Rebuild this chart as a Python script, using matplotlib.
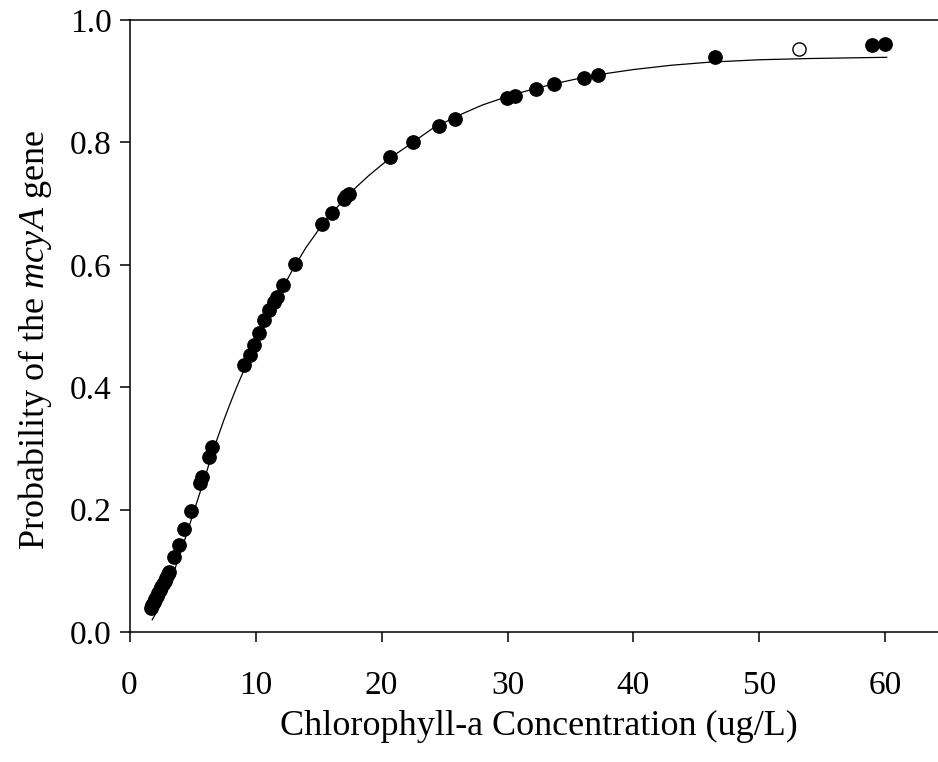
import matplotlib
matplotlib.use("Agg")
import matplotlib.pyplot as plt

plt.rcParams['font.family'] = ['Liberation Serif', 'DejaVu Serif']
plt.rcParams['mathtext.fontset'] = 'custom'
plt.rcParams['mathtext.rm'] = 'Liberation Serif'
plt.rcParams['mathtext.it'] = 'Liberation Serif:italic'

# Observed samples (filled) : chlorophyll-a vs probability of mcyA
chl_obs = [1.67, 1.80, 1.92, 2.03, 2.15, 2.27, 2.40, 2.52, 2.65, 2.78, 2.90, 3.02, 3.12,
           3.52, 3.91, 4.31, 4.84, 5.63, 5.76, 6.29, 6.56,
           9.10, 9.55, 9.87, 10.27, 10.66, 11.06, 11.45, 11.72, 12.20, 13.10,
           15.30, 16.08, 17.00, 17.20, 17.40, 20.70, 22.50, 24.60, 25.87,
           29.97, 30.60, 32.30, 33.70, 36.06, 37.17, 46.50, 58.90, 59.95]
prob_obs = [0.039, 0.044, 0.049, 0.054, 0.059, 0.064, 0.069, 0.074, 0.079, 0.084, 0.089, 0.094, 0.0985,
            0.123, 0.142, 0.169, 0.197, 0.243, 0.254, 0.286, 0.303,
            0.436, 0.453, 0.469, 0.488, 0.510, 0.526, 0.540, 0.548, 0.567, 0.601,
            0.666, 0.685, 0.707, 0.712, 0.716, 0.776, 0.801, 0.827, 0.839,
            0.872, 0.876, 0.887, 0.895, 0.905, 0.910, 0.939, 0.959, 0.961]

# Outlier sample (open marker)
chl_out = [53.1]
prob_out = [0.952]

# Fitted sigmoid response curve
chl_fit = [1.8, 2.5, 3.0, 3.5, 4.0, 4.5, 5.0, 5.5, 6.0, 6.5, 7.0, 7.5, 8.0, 8.5, 9.0,
           9.5, 10.0, 11.0, 12.0, 13.0, 14.0, 15.0, 16.0, 17.0, 18.0, 19.0, 20.0,
           21.0, 22.0, 24.0, 26.0, 28.0, 30.0, 32.0, 34.0, 36.0, 38.0, 40.0, 43.0,
           46.0, 50.0, 54.0, 57.0, 60.1]
prob_fit = [0.020, 0.046, 0.070, 0.097, 0.127, 0.158, 0.190, 0.222, 0.254, 0.287, 0.318,
            0.347, 0.374, 0.400, 0.424, 0.448, 0.471, 0.515, 0.556, 0.594, 0.628, 0.657,
            0.683, 0.706, 0.727, 0.746, 0.763, 0.779, 0.793, 0.822, 0.843, 0.861, 0.875,
            0.887, 0.897, 0.906, 0.913, 0.919, 0.926, 0.931, 0.935, 0.937, 0.938, 0.939]

x_ticks = [0, 10, 20, 30, 40, 50, 60]
y_ticks = [0.0, 0.2, 0.4, 0.6, 0.8, 1.0]

fig = plt.figure(figsize=(9.38, 7.62), dpi=100)
ax = fig.add_axes([0.1381, 0.1706, 1.0 - 0.1381, 0.9738 - 0.1706])

ax.plot(chl_fit, prob_fit, color='black', lw=0.9, zorder=2)
ax.plot(chl_obs, prob_obs, 'o', color='black', ms=9.6, zorder=3)
ax.plot(chl_out, prob_out, 'o', mfc='white', mec='black', mew=1.0, ms=9.5, zorder=3)

ax.set_xlim(0, 64.17)
ax.set_ylim(0, 1.0)
ax.set_xticks(x_ticks)
ax.set_xticklabels([str(v) for v in x_ticks])
ax.set_yticks(y_ticks)
ax.set_yticklabels([f"{v:.1f}" for v in y_ticks])

for side in ('left', 'bottom', 'top'):
    ax.spines[side].set_linewidth(1.1)
ax.spines['right'].set_visible(False)

ax.tick_params(axis='both', direction='out', length=7, width=1.1, labelsize=24)
ax.tick_params(axis='x', pad=21)
ax.tick_params(axis='y', pad=6)

ax.set_xlabel('Chlorophyll-a Concentration (ug/L)', fontsize=26)
ax.set_ylabel(r'Probability of the $\mathit{mcyA}$ gene', fontsize=26)
ax.xaxis.set_label_coords(0.5065, -0.127)
ax.yaxis.set_label_coords(-0.093, 0.477)

fig.savefig('out.png', dpi=100)
